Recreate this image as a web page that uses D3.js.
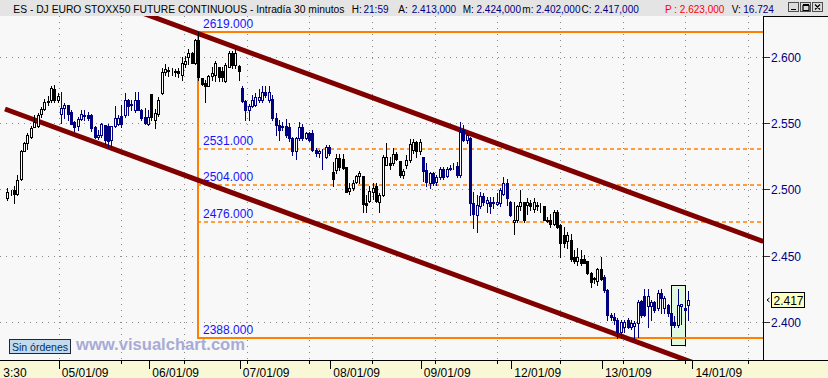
<!DOCTYPE html>
<html>
<head>
<meta charset="utf-8">
<script src="https://cdn.jsdelivr.net/npm/d3@7"></script>
<style>
    body { margin: 0; background: #ffffff; overflow: hidden; }
    svg { display: block; font-family: "Liberation Sans", Arial, sans-serif; }
</style>
</head>
<body>
<div id="chart"></div>
<script>
// Data: 30 min bars, [open, high, low, close]
const jan02 = [
    [2493.5, 2501, 2492.5, 2498.5], [2498.5, 2500, 2496, 2498], [2499.5, 2503, 2490, 2497],
    [2497, 2511, 2496, 2507.5], [2508, 2530, 2507.5, 2529.5], [2529.5, 2536, 2529, 2535],
    [2535, 2542.5, 2530.5, 2541.5], [2539.5, 2548, 2539, 2547], [2547.5, 2556.5, 2547.5, 2551.5],
    [2548, 2558, 2547.5, 2556.5], [2557, 2562.5, 2555, 2561], [2561, 2568.5, 2560, 2566],
    [2566, 2570.5, 2564, 2567], [2568, 2578.5, 2566.5, 2576.5], [2576, 2579, 2566.5, 2568],
    [2568, 2573, 2566, 2571]
];
const jan05 = [
    [2557, 2573.5, 2550.5, 2561.5], [2561.5, 2565.5, 2554, 2564], [2564, 2564, 2553, 2557],
    [2558.5, 2560.5, 2550, 2550], [2551, 2552, 2544.5, 2547.5], [2548, 2555, 2545, 2553.5],
    [2553.5, 2560, 2552.5, 2557], [2556.5, 2560, 2552.5, 2555.5], [2556.5, 2558.5, 2552.5, 2554.5],
    [2556.5, 2557, 2544.5, 2546.5], [2547.5, 2548, 2539, 2540], [2539.5, 2545, 2538, 2541.5],
    [2541.5, 2550.5, 2540, 2550], [2549, 2549, 2534, 2537.5], [2548, 2550, 2532, 2536.5],
    [2537.5, 2548, 2532.5, 2548], [2548, 2563.5, 2547.5, 2554.5], [2550, 2556.5, 2549, 2554.5],
    [2555.5, 2564, 2547.5, 2550], [2556.5, 2573, 2555, 2568], [2567.5, 2568.5, 2556.5, 2563.5],
    [2564, 2568, 2560, 2565], [2560.5, 2574, 2559, 2568], [2568, 2574, 2560, 2560.5],
    [2560.5, 2561, 2552.5, 2554.5], [2555, 2561.5, 2550, 2550.5], [2550, 2560.5, 2549, 2555]
];
const jan06 = [
    [2572, 2572.5, 2553, 2555], [2553, 2561, 2547, 2558], [2557, 2570, 2556, 2568],
    [2573, 2592, 2572.5, 2589], [2589, 2595, 2587, 2591], [2590, 2593, 2586, 2590.5],
    [2590, 2592, 2587, 2589.5], [2589, 2591, 2586, 2590], [2590, 2592, 2585, 2588],
    [2587, 2600, 2583, 2596], [2595, 2601, 2593, 2597], [2600, 2606, 2595, 2603],
    [2603, 2604, 2595.5, 2596], [2596, 2614, 2595, 2613], [2613, 2619, 2583, 2585],
    [2584, 2584.5, 2579, 2580], [2580.5, 2583, 2566.5, 2578.5], [2578.5, 2587, 2578, 2586],
    [2586, 2593, 2583, 2588], [2587, 2597, 2582, 2596], [2592.5, 2593, 2582, 2585],
    [2590, 2593, 2582, 2585.5], [2582, 2595.5, 2581.5, 2594], [2593, 2604.5, 2593, 2603],
    [2603, 2605, 2592, 2594], [2594, 2606, 2592, 2603.5], [2593.5, 2594.5, 2582.5, 2590]
];
const jan07 = [
    [2577, 2578, 2566.5, 2567], [2567, 2568, 2553, 2560.5], [2560.5, 2565, 2552.5, 2563.5],
    [2563.5, 2571.5, 2562.5, 2568], [2564, 2573, 2563.5, 2570], [2568, 2576, 2566.5, 2570],
    [2568, 2578.5, 2566, 2573.5], [2573.5, 2578, 2570, 2571.5], [2568, 2578.5, 2566.5, 2574],
    [2568.5, 2571.5, 2553, 2554], [2554, 2558, 2541.5, 2549], [2549, 2552.5, 2537.5, 2545],
    [2548, 2551.5, 2545, 2547.5], [2548, 2553.5, 2540, 2541.5], [2547.5, 2550.5, 2536.5, 2539],
    [2539, 2540, 2526.5, 2529], [2529, 2540, 2523, 2539], [2539, 2551.5, 2537.5, 2547.5],
    [2547.5, 2550, 2537.5, 2539], [2539, 2544, 2538, 2542.5], [2542.5, 2544, 2537, 2537.5],
    [2542.5, 2545, 2529, 2530], [2530, 2531.5, 2525.5, 2527.5], [2527.5, 2530, 2524.5, 2529],
    [2528, 2531, 2516, 2527.5], [2525, 2534, 2524, 2532.5], [2532, 2534, 2526, 2528]
];
const jan08 = [
    [2513.5, 2521, 2502.5, 2508], [2515, 2527, 2513, 2524], [2524, 2527, 2515, 2517.5],
    [2523.5, 2527, 2516, 2516.5], [2517.5, 2517.5, 2498, 2498.5], [2499, 2505, 2496.5, 2501],
    [2501.5, 2507.5, 2500, 2505], [2506, 2511.5, 2505, 2510.5], [2510.5, 2514, 2505.5, 2513],
    [2510.5, 2510.5, 2483.5, 2489], [2490, 2496, 2483.5, 2488.5], [2491.5, 2502.5, 2491, 2499],
    [2498, 2505, 2493, 2501.5], [2502.5, 2505, 2491, 2491.5], [2490.5, 2497.5, 2483.5, 2496],
    [2496, 2526.5, 2495.5, 2525], [2519, 2535, 2518.5, 2525], [2520, 2525, 2516, 2518.5],
    [2520, 2531.5, 2519, 2527], [2527, 2528.5, 2522.5, 2523.5], [2521.5, 2522, 2510, 2511],
    [2511, 2516, 2509, 2514], [2518.5, 2526.5, 2516.5, 2522.5], [2522.5, 2538.5, 2521, 2534.5],
    [2530, 2538.5, 2527.5, 2536], [2536, 2536.5, 2525, 2529], [2529, 2538, 2527, 2536]
];
const jan09 = [
    [2525, 2525, 2506.5, 2514], [2515, 2520, 2502.5, 2506], [2505, 2513.5, 2501.5, 2512.5],
    [2512.5, 2513.5, 2503.5, 2505], [2506, 2511, 2504, 2510], [2510, 2517.5, 2508.5, 2516],
    [2516, 2517.5, 2508.5, 2510], [2510.5, 2517.5, 2510, 2515.5], [2516.5, 2518.5, 2515, 2516],
    [2517, 2520, 2516, 2517.5], [2518, 2521, 2510, 2511], [2511, 2551.5, 2510, 2544],
    [2545, 2549, 2536.5, 2537.5], [2537.5, 2542.5, 2535, 2541.5], [2539, 2540, 2481, 2490],
    [2490, 2498.5, 2471, 2481.5], [2481, 2496, 2468, 2488.5], [2487.5, 2498.5, 2486.5, 2495],
    [2495, 2497.5, 2488.5, 2491], [2490, 2494.5, 2483.5, 2492], [2491, 2494.5, 2482.5, 2488],
    [2490.5, 2494.5, 2486, 2490], [2489.5, 2497.5, 2488.5, 2491], [2490, 2501, 2488, 2500],
    [2496.5, 2510, 2496, 2505], [2505, 2508.5, 2488.5, 2493.5], [2490.5, 2491.5, 2480.5, 2481]
];
const jan12 = [
    [2476, 2490.5, 2467, 2477.5], [2477.5, 2488.5, 2476, 2487.5], [2487.5, 2500, 2485, 2490.5],
    [2490.5, 2491, 2476, 2477], [2488.5, 2493.5, 2482, 2491], [2490, 2492.5, 2485, 2487.5],
    [2485.5, 2493.5, 2483.5, 2491], [2488, 2491, 2485, 2488.5], [2488, 2490, 2483, 2487.5],
    [2488, 2488, 2477, 2477.5], [2477.5, 2479.5, 2476, 2476.5], [2477, 2482, 2472, 2474.5],
    [2474.5, 2485, 2473.5, 2483.5], [2483.5, 2484.5, 2471, 2472], [2473.5, 2474.5, 2449.5, 2459.5],
    [2466, 2472, 2457, 2459.5], [2461, 2468.5, 2456, 2466], [2462, 2467, 2446, 2447.5],
    [2449.5, 2454.5, 2444.5, 2446], [2446, 2456, 2443, 2449.5], [2448, 2454.5, 2443, 2445],
    [2448, 2451, 2444.5, 2445], [2446, 2446, 2436.5, 2437], [2437, 2438, 2427, 2430.5],
    [2432.5, 2434.5, 2430, 2433.5], [2431.5, 2441, 2428, 2440.5], [2440.5, 2449.5, 2432, 2433]
];
const jan13 = [
    [2434.5, 2435.5, 2423, 2424.5], [2424.5, 2425, 2401.5, 2405.5], [2405.5, 2407, 2401.5, 2404],
    [2404, 2407, 2399, 2402], [2401.5, 2403, 2388, 2393], [2393, 2402, 2388, 2400.5],
    [2396.5, 2402, 2392.5, 2400.5], [2401.5, 2403, 2395.5, 2396.5], [2396.5, 2402, 2395, 2399.5],
    [2397, 2401, 2388, 2399.5], [2399.5, 2417, 2389, 2415.5], [2416, 2417, 2404, 2405.5],
    [2419.5, 2425.5, 2404.5, 2405.5], [2412, 2425.5, 2396.5, 2420], [2412, 2417, 2401.5, 2415.5],
    [2415.5, 2416, 2408, 2409.5], [2410.5, 2424.5, 2409.5, 2422], [2422, 2425.5, 2407, 2418],
    [2410.5, 2419.5, 2407, 2418], [2413, 2414, 2404.5, 2407], [2407, 2410.5, 2396.5, 2398],
    [2400.5, 2404.5, 2396.5, 2398], [2398, 2425.5, 2396.5, 2413], [2412, 2414, 2399, 2413.5],
    [2411, 2416, 2405, 2409], [2413, 2424, 2402, 2417]
];

const sessions = [jan02, jan05, jan06, jan07, jan08, jan09, jan12, jan13];
const axisDayLabels = ["05/01/09", "06/01/09", "07/01/09", "08/01/09", "09/01/09", "12/01/09", "13/01/09", "14/01/09"];
const firstTimeLabel = "3:30";   // shown clipped in the original
const barsPerDay = 27;

const priceTicks = [2400, 2450, 2500, 2550, 2600];
const fibLevels = [2619, 2531, 2504, 2476, 2388];
const fibAnchorSlot = 57;                       // bar of the 2619 high
const upperChannel = [[-1.7, 2673], [226, 2461]];
const lowerChannel = [[-0.2, 2561], [226, 2350]];
const highlightBox = { from: 198.5, to: 202.8, low: 2383, high: 2428 };
const refPrice = 2623;
const lastVolume = "16.724";

// layout
const width = 828;
const height = 378;
const plot = { left: 0, top: 16, right: 763, bottom: 360 };
const navy = "#000080";
const orange = "#ff8000";
const maroon = "#800000";

const firstDayBars = jan02.length;
const bars = sessions.flatMap((day, d) => day.map((b, j) => ({
    slot: d === 0 ? j : firstDayBars + (d - 1) * barsPerDay + j,
    day: d,
    open: b[0], high: b[1], low: b[2], close: b[3]
})));
const last = bars[bars.length - 1];

const xScale = d3.scaleLinear()
    .domain([firstDayBars, firstDayBars + 7 * barsPerDay])
    .range([59.3, 692.9]);

const yScale = d3.scaleLinear()
    .domain([2400, 2600])
    .range([322.3, 57.3]);

const crisp = v => Math.round(v) + 0.5;

const svg = d3.select("#chart")
    .append("svg")
    .attr("width", width)
    .attr("height", height);

svg.append("rect")
    .attr("width", width)
    .attr("height", height)
    .attr("fill", "#f8f8f8");

svg.append("defs")
    .append("clipPath")
    .attr("id", "plot-clip")
    .append("rect")
    .attr("x", plot.left)
    .attr("y", plot.top)
    .attr("width", plot.right - plot.left)
    .attr("height", plot.bottom - plot.top);

const inner = svg.append("g").attr("clip-path", "url(#plot-clip)");

// grid
const gridSlots = d3.range(firstDayBars, 226, 18.69);
inner.append("g")
    .selectAll("line")
    .data(gridSlots)
    .join("line")
    .attr("x1", d => crisp(xScale(d) - 0.5))
    .attr("x2", d => crisp(xScale(d) - 0.5))
    .attr("y1", plot.top)
    .attr("y2", plot.bottom)
    .attr("stroke", "#8a8a8a")
    .attr("stroke-dasharray", "1,5");

inner.append("g")
    .selectAll("line")
    .data(priceTicks)
    .join("line")
    .attr("x1", plot.left)
    .attr("x2", plot.right)
    .attr("y1", d => crisp(yScale(d) - 0.5))
    .attr("y2", d => crisp(yScale(d) - 0.5))
    .attr("stroke", "#8a8a8a")
    .attr("stroke-dasharray", "1,5");

// watermark + orders box
inner.append("text")
    .attr("x", 76)
    .attr("y", 350)
    .attr("font-size", 16)
    .attr("font-weight", "bold")
    .attr("fill", "#a7abd6")
    .attr("textLength", 169)
    .attr("lengthAdjust", "spacingAndGlyphs")
    .text("www.visualchart.com");

inner.append("rect")
    .attr("x", 9.5)
    .attr("y", 339.5)
    .attr("width", 61)
    .attr("height", 14)
    .attr("fill", "#c3d9ee")
    .attr("stroke", "#1a2a3a");

inner.append("text")
    .attr("x", 12)
    .attr("y", 350.5)
    .attr("font-size", 11)
    .attr("fill", "#00305a")
    .attr("textLength", 56)
    .attr("lengthAdjust", "spacingAndGlyphs")
    .text("Sin órdenes");

// highlighted bars
inner.append("rect")
    .attr("x", crisp(xScale(highlightBox.from)))
    .attr("y", crisp(yScale(highlightBox.high)))
    .attr("width", Math.round(xScale(highlightBox.to) - xScale(highlightBox.from)))
    .attr("height", Math.round(yScale(highlightBox.low) - yScale(highlightBox.high)))
    .attr("fill", "#e0f8e0")
    .attr("stroke", "#000");

// fibonacci levels
const fibX = Math.round(xScale(fibAnchorSlot + 0.5));
const fibG = inner.append("g");

fibG.selectAll("line")
    .data(fibLevels)
    .join("line")
    .attr("x1", fibX - 1)
    .attr("x2", plot.right)
    .attr("y1", d => Math.round(yScale(d)))
    .attr("y2", d => Math.round(yScale(d)))
    .attr("stroke", orange)
    .attr("stroke-width", (d, i) => (i === 0 || i === fibLevels.length - 1) ? 2 : 1.5)
    .attr("stroke-dasharray", (d, i) => (i === 0 || i === fibLevels.length - 1) ? null : "4,3");

fibG.append("line")
    .attr("x1", fibX)
    .attr("x2", fibX)
    .attr("y1", Math.round(yScale(fibLevels[0])))
    .attr("y2", Math.round(yScale(fibLevels[fibLevels.length - 1])))
    .attr("stroke", orange)
    .attr("stroke-width", 2);

fibG.selectAll("text")
    .data(fibLevels)
    .join("text")
    .attr("x", fibX + 5)
    .attr("y", d => Math.round(yScale(d)) - 4.5)
    .attr("font-size", 12)
    .attr("fill", "#1414ff")
    .text(d => d3.format(".3f")(d));

// channel
const channelLine = d3.line()
    .x(d => xScale(d[0]))
    .y(d => yScale(d[1]));

inner.append("g")
    .selectAll("path")
    .data([upperChannel, lowerChannel])
    .join("path")
    .attr("d", channelLine)
    .attr("fill", "none")
    .attr("stroke", maroon)
    .attr("stroke-width", 5);

// candles
const candleColor = d => d.day % 2 === 0 ? "#000" : navy;
const candles = inner.append("g")
    .attr("shape-rendering", "crispEdges")
    .selectAll("g")
    .data(bars)
    .join("g");

candles.append("line")
    .attr("x1", d => Math.round(xScale(d.slot + 0.5)) + 0.5)
    .attr("x2", d => Math.round(xScale(d.slot + 0.5)) + 0.5)
    .attr("y1", d => Math.round(yScale(d.high)))
    .attr("y2", d => Math.round(yScale(d.low)) + 1)
    .attr("stroke", candleColor);

candles.append("rect")
    .attr("x", d => Math.round(xScale(d.slot + 0.5)) - 0.5)
    .attr("y", d => Math.round(yScale(Math.max(d.open, d.close))) + 0.5)
    .attr("width", 2)
    .attr("height", d => Math.max(0, Math.round(yScale(Math.min(d.open, d.close))) - Math.round(yScale(Math.max(d.open, d.close)))))
    .attr("fill", d => d.close > d.open ? "#fff" : candleColor(d))
    .attr("stroke", candleColor);

// title bar (drawn before the axis panel so its top border stays visible)
const es = d3.formatLocale({ decimal: ",", thousands: ".", grouping: [3] }).format(",.3f");
const titleG = svg.append("g");
titleG.append("rect")
    .attr("width", width)
    .attr("height", plot.top)
    .attr("fill", "#e4e4e4");

titleG.append("text")
    .attr("x", 13.3)
    .attr("y", 12.5)
    .attr("font-size", 10.3)
    .attr("fill", "#000")
    .text("ES - DJ EURO STOXX50 FUTURE CONTINUOUS - Intradía 30 minutos");

const infoItems = [
    { text: "H:", x: 351.7, color: "#000" },
    { text: "21:59", x: 363.5, color: navy },
    { text: "A:", x: 398.3, color: "#000" },
    { text: es(last.open), x: 411.7, color: navy },
    { text: "M:", x: 462.7, color: "#000" },
    { text: es(last.high), x: 476.5, color: navy },
    { text: "m:", x: 522.3, color: "#000" },
    { text: es(last.low), x: 536, color: navy },
    { text: "C:", x: 581.5, color: "#000" },
    { text: es(last.close), x: 594.3, color: navy },
    { text: "P : " + es(refPrice), x: 665, color: "#ff0000" },
    { text: "V:", x: 731.7, color: "#000" },
    { text: lastVolume, x: 743.3, color: navy }
];

titleG.selectAll(".info")
    .data(infoItems)
    .join("text")
    .attr("class", "info")
    .attr("x", d => d.x)
    .attr("y", 12.5)
    .attr("font-size", 10)
    .attr("fill", d => d.color)
    .text(d => d.text);

// window buttons
const buttons = [788.5, 800.5, 812.5];
titleG.selectAll(".btn")
    .data(buttons)
    .join("rect")
    .attr("x", d => d)
    .attr("y", 2.5)
    .attr("width", 10)
    .attr("height", 9)
    .attr("fill", "#dcdcdc")
    .attr("stroke", "#505050");

titleG.append("path")
    .attr("d", "M791,9.5 H796 M803,5.5 H809 V10.5 H803 Z M803,4.5 H809 M815,4.5 L820,9.5 M820,4.5 L815,9.5")
    .attr("fill", "none")
    .attr("stroke", "#000")
    .attr("stroke-width", 1.2);

// right price axis
const axisG = svg.append("g");
axisG.append("rect")
    .attr("x", plot.right + 0.5)
    .attr("y", plot.top + 0.5)
    .attr("width", width - plot.right)
    .attr("height", plot.bottom - plot.top)
    .attr("fill", "#f8f8f8")
    .attr("stroke", "#000");

axisG.selectAll(".tick")
    .data(priceTicks)
    .join("line")
    .attr("x1", plot.right + 1)
    .attr("x2", plot.right + 7)
    .attr("y1", d => crisp(yScale(d) - 0.5))
    .attr("y2", d => crisp(yScale(d) - 0.5))
    .attr("stroke", "#333");

axisG.selectAll("text")
    .data(priceTicks)
    .join("text")
    .attr("x", plot.right + 8)
    .attr("y", d => yScale(d) + 4.5)
    .attr("font-size", 12)
    .attr("fill", navy)
    .text(d => d3.format(".3f")(d / 1000));

const lastY = Math.round(yScale(last.close));
axisG.append("path")
    .attr("d", `M${plot.right + 6.5},${lastY - 2} L${plot.right + 4},${lastY} L${plot.right + 6.5},${lastY + 2}`)
    .attr("fill", "none")
    .attr("stroke", "#000");

axisG.append("rect")
    .attr("x", plot.right + 8.5)
    .attr("y", lastY - 7.5)
    .attr("width", 33)
    .attr("height", 15)
    .attr("fill", "#ffffc0")
    .attr("stroke", "#000");

axisG.append("text")
    .attr("x", plot.right + 10.5)
    .attr("y", lastY + 4.5)
    .attr("font-size", 12)
    .attr("fill", "#000")
    .text(d3.format(".3f")(last.close / 1000));

// bottom time axis
const timeG = svg.append("g");
timeG.append("rect")
    .attr("x", 0)
    .attr("y", plot.bottom)
    .attr("width", width)
    .attr("height", height - plot.bottom)
    .attr("fill", "#f8f8d6");

timeG.append("line")
    .attr("x1", 0)
    .attr("x2", width)
    .attr("y1", plot.bottom + 0.5)
    .attr("y2", plot.bottom + 0.5)
    .attr("stroke", "#000");

timeG.selectAll(".minor")
    .data(gridSlots)
    .join("line")
    .attr("x1", d => crisp(xScale(d) - 0.5))
    .attr("x2", d => crisp(xScale(d) - 0.5))
    .attr("y1", plot.bottom)
    .attr("y2", plot.bottom + 4)
    .attr("stroke", "#000");

const dayTicks = axisDayLabels.map((label, i) => ({ slot: firstDayBars + i * barsPerDay, label }));

timeG.selectAll(".major")
    .data(dayTicks)
    .join("line")
    .attr("x1", d => crisp(xScale(d.slot) - 0.5))
    .attr("x2", d => crisp(xScale(d.slot) - 0.5))
    .attr("y1", plot.bottom)
    .attr("y2", plot.bottom + 9)
    .attr("stroke", "#000");

timeG.selectAll(".day-label")
    .data(dayTicks)
    .join("text")
    .attr("x", d => xScale(d.slot) + 2.5)
    .attr("y", 376.5)
    .attr("font-size", 12)
    .attr("fill", "#000")
    .text(d => d.label);

timeG.append("text")
    .attr("x", 3.3)
    .attr("y", 376.5)
    .attr("font-size", 12)
    .attr("fill", "#000")
    .text(firstTimeLabel);
</script>
</body>
</html>
